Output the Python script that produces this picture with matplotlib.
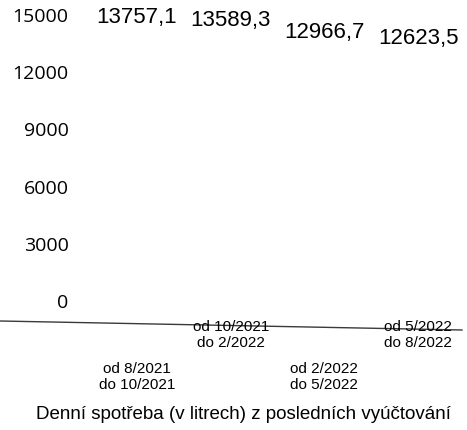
import matplotlib
matplotlib.use('Agg')
import matplotlib.pyplot as plt
from matplotlib.lines import Line2D

# ---------- data ----------
periods = ['od 8/2021\ndo 10/2021', 'od 10/2021\ndo 2/2022',
           'od 2/2022\ndo 5/2022', 'od 5/2022\ndo 8/2022']
consumption = [13757.1, 13589.3, 12966.7, 12623.5]
y_ticks = [0, 3000, 6000, 9000, 12000, 15000]

plt.rcParams['font.family'] = ['Liberation Sans', 'DejaVu Sans']

fig = plt.figure(figsize=(4.67, 4.30), dpi=100)
ax = fig.add_axes([0.1927, 0.30, 0.7923, 0.6651])

x = list(range(len(periods)))
bars = ax.bar(x, consumption, width=0.6, color='none', edgecolor='none')
ax.bar_label(bars, labels=[f'{v:.1f}'.replace('.', ',') for v in consumption],
             padding=8, fontsize=16)

ax.set_xlim(-0.502, 3.447)
ax.set_ylim(0, 15000)
ax.set_yticks(y_ticks)
ax.set_yticklabels([str(t) for t in y_ticks], fontsize=14)
for lbl in ax.get_yticklabels():
    lbl.set_fontfamily(['Open Sans', 'DejaVu Sans'])
ax.tick_params(axis='y', length=0, pad=15.5)

ax.set_xticks(x)
ax.set_xticklabels(periods, fontsize=11, linespacing=1.15)
ax.tick_params(axis='x', length=0)
for i, t in enumerate(ax.xaxis.get_major_ticks()):
    t.set_pad(44 if i % 2 == 0 else 14)

for s in ax.spines.values():
    s.set_visible(False)

# scanned, slightly tilted base line
fig.add_artist(Line2D([0, 462 / 467], [1 - 321 / 430, 1 - 330 / 430],
                      color='#3a3a3a', lw=1.0, zorder=0))

fig.text(0.522, 0.037, 'Denní spotřeba (v litrech) z posledních vyúčtování',
         ha='center', va='center', fontsize=13.5)

fig.savefig('out.png', dpi=100, facecolor='white')
plt.close()
